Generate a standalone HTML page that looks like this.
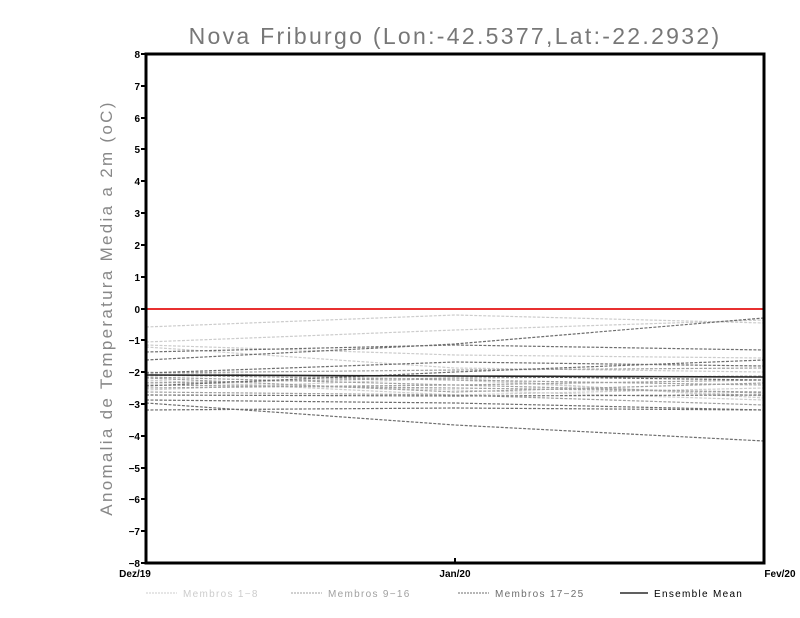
<!DOCTYPE html>
<html><head><meta charset="utf-8"><style>
body{margin:0;background:#fff;}
svg{display:block;font-family:"Liberation Sans",sans-serif;}
</style></head><body>
<svg width="800" height="618" viewBox="0 0 800 618" xmlns="http://www.w3.org/2000/svg">
<text x="455" y="44" text-anchor="middle" font-size="23" letter-spacing="2.3" fill="#777">Nova Friburgo (Lon:-42.5377,Lat:-22.2932)</text>
<text transform="translate(112,308) rotate(-90)" text-anchor="middle" font-size="17" letter-spacing="2.3" fill="#888">Anomalia de Temperatura Media a 2m (oC)</text>
<g stroke-width="1.2" fill="none" stroke-dasharray="3,1.5">
<g stroke="#cccccc">
<polyline points="146,327 455,315 764,323"/>
<polyline points="146,342 455,330 764,320"/>
<polyline points="146,345 455,355 764,358"/>
<polyline points="146,347 455,368 764,372"/>
<polyline points="146,372 455,380 764,396"/>
<polyline points="146,382 455,390 764,400"/>
<polyline points="146,380 455,395 764,388"/>
<polyline points="146,390 455,378 764,398"/>
</g>
<g stroke="#a0a0a0">
<polyline points="146,373 455,370 764,368"/>
<polyline points="146,377 455,385 764,380"/>
<polyline points="146,385 455,388 764,392"/>
<polyline points="146,375 455,380 764,385"/>
<polyline points="146,378 455,392 764,383"/>
<polyline points="146,388 455,385 764,393"/>
<polyline points="146,392 455,395 764,405"/>
<polyline points="146,383 455,378 764,376"/>
</g>
<g stroke="#6e6e6e">
<polyline points="146,360 455,344 764,318"/>
<polyline points="146,352 455,345 764,350"/>
<polyline points="146,373 455,362 764,366"/>
<polyline points="146,386 455,372 764,360"/>
<polyline points="146,395 455,396 764,395"/>
<polyline points="146,400 455,403 764,410"/>
<polyline points="146,410 455,408 764,410"/>
<polyline points="146,403 455,425 764,441"/>
<polyline points="146,375 455,376 764,380"/>
</g>
</g>
<polyline points="146,375 455,376 764,377" stroke="#222" stroke-width="1.6" fill="none"/>
<line x1="146" y1="309" x2="764" y2="309" stroke="#e83030" stroke-width="2"/>
<rect x="146" y="54" width="618" height="509" fill="none" stroke="#000" stroke-width="3"/>
<g stroke="#000" stroke-width="2">
<line x1="141" y1="54" x2="146" y2="54"/><line x1="141" y1="86" x2="146" y2="86"/><line x1="141" y1="118" x2="146" y2="118"/><line x1="141" y1="149" x2="146" y2="149"/><line x1="141" y1="181" x2="146" y2="181"/><line x1="141" y1="213" x2="146" y2="213"/><line x1="141" y1="245" x2="146" y2="245"/><line x1="141" y1="277" x2="146" y2="277"/><line x1="141" y1="309" x2="146" y2="309"/><line x1="141" y1="340" x2="146" y2="340"/><line x1="141" y1="372" x2="146" y2="372"/><line x1="141" y1="404" x2="146" y2="404"/><line x1="141" y1="436" x2="146" y2="436"/><line x1="141" y1="468" x2="146" y2="468"/><line x1="141" y1="499" x2="146" y2="499"/><line x1="141" y1="531" x2="146" y2="531"/><line x1="141" y1="563" x2="146" y2="563"/>
<line x1="455" y1="563" x2="455" y2="558"/>
</g>
<g font-size="10" font-weight="bold" text-anchor="end" fill="#000">
<text x="140" y="58">8</text><text x="140" y="90">7</text><text x="140" y="122">6</text><text x="140" y="153">5</text><text x="140" y="185">4</text><text x="140" y="217">3</text><text x="140" y="249">2</text><text x="140" y="281">1</text><text x="140" y="313">0</text><text x="140" y="344">−1</text><text x="140" y="376">−2</text><text x="140" y="408">−3</text><text x="140" y="440">−4</text><text x="140" y="472">−5</text><text x="140" y="503">−6</text><text x="140" y="535">−7</text><text x="140" y="567">−8</text>
</g>
<g font-size="10" font-weight="bold" fill="#000" text-anchor="middle">
<text x="135" y="577">Dez/19</text><text x="455" y="577">Jan/20</text><text x="780" y="577">Fev/20</text>
</g>
<g font-size="10" letter-spacing="1.3">
<line x1="146" y1="593" x2="177" y2="593" stroke="#ccc" stroke-dasharray="2,1"/>
<text x="183" y="597" fill="#ccc">Membros 1−8</text>
<line x1="291" y1="593" x2="322" y2="593" stroke="#a0a0a0" stroke-dasharray="2,1"/>
<text x="328" y="597" fill="#a0a0a0">Membros 9−16</text>
<line x1="458" y1="593" x2="489" y2="593" stroke="#6e6e6e" stroke-dasharray="2,1"/>
<text x="495" y="597" fill="#6e6e6e">Membros 17−25</text>
<line x1="620" y1="593" x2="648" y2="593" stroke="#000" stroke-width="1.3"/>
<text x="654" y="597" fill="#000">Ensemble Mean</text>
</g>
</svg>
</body></html>
